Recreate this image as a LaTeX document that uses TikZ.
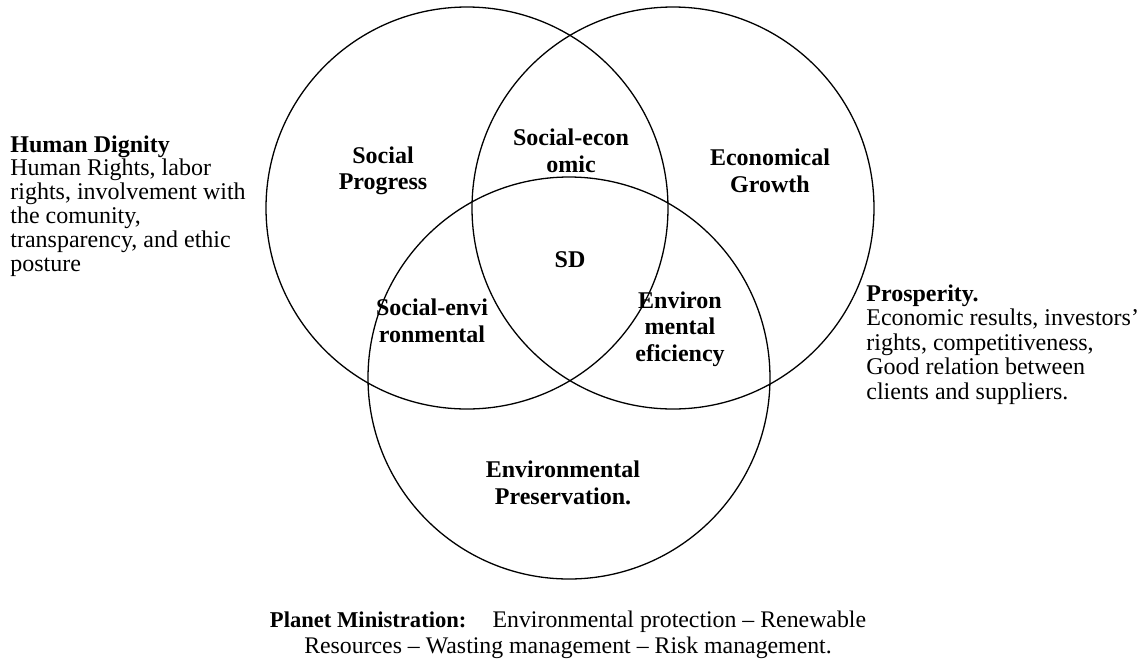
\documentclass[tikz,border=0pt]{standalone}
\usepackage{fontspec}
\setmainfont{Liberation Serif}
\usetikzlibrary{positioning}
\tikzstyle{ring} = [draw, circle, minimum size=201pt, inner sep=0pt, line width=0.65pt]
\tikzstyle{area} = [font=\bfseries\fontsize{12}{13.3}\selectfont, align=center, inner sep=0pt]
\tikzstyle{note} = [font=\fontsize{12}{11.9}\selectfont, align=left, inner sep=0pt]

\begin{document}
\begin{tikzpicture}[x=0.5pt, y=-0.5pt]
  \useasboundingbox (0,0) rectangle (1142,660);

  \node[ring] (social) at (467,208) {};
  \node[ring] (economic) at (673,208) {};
  \node[ring] (planet) at (569,378) {};

  \node[area] (progress) at (383,171) {Social\\Progress};
  \node[area] (growth) at (770,171) {Economical\\Growth};
  \node[area] (preserve) at (563,483) {Environmental\\Preservation.};
  \node[area] (socecon) at (571,151) {Social-econ\\omic};
  \node[area] (socenv) at (432,321) {Social-envi\\ronmental};
  \node[area] (envecon) at (680,329) {Environ\\mental\\eficiency};
  \node[area] (sd) at (570,260) {SD};

  \node[note, anchor=north west] (dignity) at (10,135)
    {\textbf{Human Dignity}\\Human Rights, labor\\rights, involvement with\\the comunity,\\transparency, and ethic\\posture};
  \node[note, font=\fontsize{12}{12.25}\selectfont, anchor=north west] (prosper) at (866,284)
    {\textbf{Prosperity.}\\Economic results, investors’\\rights, competitiveness,\\Good relation between\\clients and suppliers.};
  \node[note, font=\fontsize{11.9}{12.7}\selectfont, align=center, anchor=north] (ministry) at (568,611)
    {{\fontsize{11.3}{12.7}\selectfont\bfseries Planet Ministration:}\hspace{1.1em}Environmental protection -- Renewable\\Resources -- Wasting management -- Risk management.};
\end{tikzpicture}
\end{document}
